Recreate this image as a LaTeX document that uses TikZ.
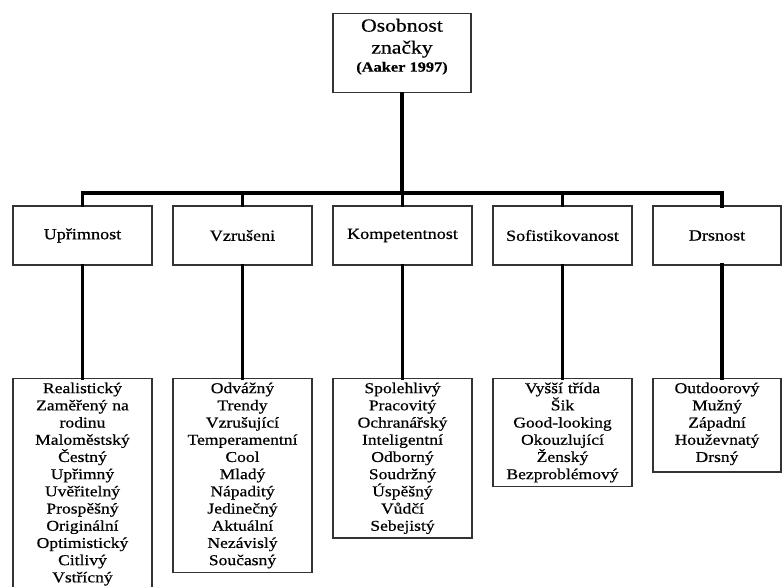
\documentclass[tikz,border=0pt]{standalone}
\usepackage{fontspec}
\setmainfont{Liberation Serif}[FakeStretch=1.17, FakeBold=0.6]
\begin{document}
\begin{tikzpicture}[x=1pt, y=-1pt,
  box/.style={draw=black!80, line width=1.4pt, fill=white, align=center},
  headbox/.style={box, minimum width=139pt, minimum height=59pt, inner sep=0pt,
    font=\fontsize{15.5}{18}\selectfont},
  listbox/.style={box, anchor=north, text width=139pt, inner xsep=0pt, inner ysep=4pt,
    font=\fontsize{15}{17.2}\selectfont},
  conn/.style={line width=3.4pt, black, line cap=rect}]
\useasboundingbox (0,0) rectangle (783,586);
\clip (0,0) rectangle (783,586);

% root
\node[box, anchor=north, minimum width=138pt, minimum height=79pt, inner ysep=3pt,
  font=\fontsize{18.5}{22}\selectfont] (root) at (402,13)
  {Osobnost\\značky\\[-4pt]{\fontsize{14}{16}\selectfont\bfseries (Aaker 1997)}\rule[-16pt]{0pt}{16pt}};

% dimensions
\node[headbox] (d1) at (82.5,235.5) {Upřimnost};
\node[headbox] (d2) at (242.5,235.5) {Vzrušeni};
\node[headbox] (d3) at (402.5,235.5) {Kompetentnost};
\node[headbox] (d4) at (562.5,235.5) {Sofistikovanost};
\node[headbox, minimum width=128pt] (d5) at (717,235.5) {Drsnost};

% traits
\node[listbox] (t1) at (82.5,378) {Realistický\\Zaměřený na\\rodinu\\Maloměstský\\Čestný\\Upřimný\\Uvěřitelný\\Prospěšný\\Originální\\Optimistický\\Citlivý\\Vstřícný\rule[-30pt]{0pt}{30pt}};
\node[listbox] (t2) at (242.5,378) {Odvážný\\Trendy\\Vzrušující\\Temperamentní\\Cool\\Mladý\\Nápaditý\\Jedinečný\\Aktuální\\Nezávislý\\Současný};
\node[listbox] (t3) at (402.5,378) {Spolehlivý\\Pracovitý\\Ochranářský\\Inteligentní\\Odborný\\Soudržný\\Úspěšný\\Vůdčí\\Sebejistý};
\node[listbox] (t4) at (562.5,378) {Vyšší třída\\Šik\\Good-looking\\Okouzlující\\Ženský\\Bezproblémový};
\node[listbox, text width=128pt] (t5) at (717,378) {Outdoorový\\Mužný\\Západní\\Houževnatý\\Drsný\rule[-6pt]{0pt}{6pt}};

% connectors
\coordinate (bus) at (402,193);
\draw[conn] (root.south) -- (bus);
\draw[conn] (d1.north) -- (d1.north |- bus) -- (bus -| 722,0) -- (722,206);
\draw[conn] (d2.north) -- (d2.north |- bus);
\draw[conn] (d3.north) -- (d3.north |- bus);
\draw[conn] (d4.north) -- (d4.north |- bus);
\draw[conn] (d1.south) -- (t1.north);
\draw[conn] (d2.south) -- (t2.north);
\draw[conn] (d3.south) -- (t3.north);
\draw[conn] (d4.south) -- (t4.north);
\draw[conn] (722,265) -- (722,378);
\end{tikzpicture}
\end{document}
